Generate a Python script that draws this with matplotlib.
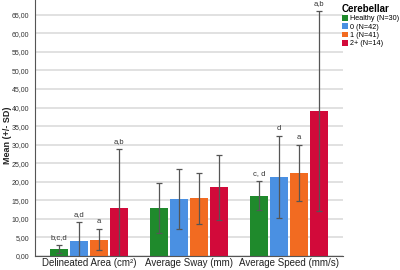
import numpy as np
import matplotlib.pyplot as plt
from matplotlib.patches import Patch

plt.rcParams['font.family'] = ['Liberation Sans', 'DejaVu Sans']

# ----------------------------
# Data
# ----------------------------
measures = ["Delineated Area (cm²)", "Average Sway (mm)", "Average Speed (mm/s)"]
groups = ["Healthy (N=30)", "0 (N=42)", "1 (N=41)", "2+ (N=14)"]
colors = ["#1f8a2c", "#4a90e2", "#f26b21", "#d20a3a"]

healthy_mean = [1.8, 12.9, 16.2]
healthy_sd = [1.1, 6.8, 3.9]
c0_mean = [4.0, 15.4, 21.3]
c0_sd = [5.2, 8.1, 11.1]
c1_mean = [4.4, 15.5, 22.4]
c1_sd = [2.9, 6.8, 7.5]
c2_mean = [13.0, 18.5, 39.0]
c2_sd = [15.9, 8.8, 26.9]

# significance letters per bar
healthy_lbl = ["b,c,d", "", "c, d"]
c0_lbl = ["a,d", "", "d"]
c1_lbl = ["a", "", "a"]
c2_lbl = ["a,b", "", "a,b"]

means = [healthy_mean, c0_mean, c1_mean, c2_mean]
sds = [healthy_sd, c0_sd, c1_sd, c2_sd]
lbls = [healthy_lbl, c0_lbl, c1_lbl, c2_lbl]

# ----------------------------
# Plot
# ----------------------------
fig = plt.figure(figsize=(4.0, 2.7), dpi=100)
ax = fig.add_axes([0.0875, 0.052, 0.77, 0.948])

x = np.arange(len(measures))
width = 0.18
offsets = [-0.3, -0.1, 0.1, 0.3]

for i in range(len(groups)):
    xs = x + offsets[i]
    ax.bar(xs, means[i], width, color=colors[i], zorder=2)
    ax.errorbar(xs, means[i], yerr=sds[i], fmt="none", ecolor="#555555",
                elinewidth=0.9, capsize=2.5, capthick=0.9, zorder=3)
    for xx, m, s, t in zip(xs, means[i], sds[i], lbls[i]):
        if t:
            ax.annotate(t, (xx, m + s), xytext=(0, 3), textcoords="offset points",
                        ha="center", va="bottom", fontsize=5.5, color="#333333")

ax.set_xlim(-0.54, 2.54)
ax.set_ylim(0, 69)
ax.set_yticks(np.arange(0, 66, 5))
ax.set_yticklabels([f"{v:.2f}".replace(".", ",") for v in np.arange(0, 66, 5)])
ax.set_xticks(x)
ax.set_xticklabels(measures)
ax.tick_params(axis="y", labelsize=5.0, length=0, pad=4, labelcolor="#333333")
ax.tick_params(axis="x", labelsize=7, length=0, pad=1.5, labelcolor="#222222")
ax.yaxis.grid(True, color="#dcdcdc", linewidth=1.2, zorder=0)
ax.set_axisbelow(True)
for side in ["top", "right"]:
    ax.spines[side].set_visible(False)
for side in ["left", "bottom"]:
    ax.spines[side].set_color("#555555")
    ax.spines[side].set_linewidth(0.8)

fig.text(0.018, 0.5, "Mean (+/- SD)", rotation=90, ha="center", va="center",
         fontsize=6.5, fontweight="bold", color="#222222")

handles = [Patch(facecolor=c, edgecolor="none") for c in colors]
leg = fig.legend(handles, groups, title="Cerebellar", loc="upper left",
                 bbox_to_anchor=(0.855, 0.985), frameon=False, fontsize=5.2,
                 title_fontsize=7, handlelength=0.8, handleheight=0.8,
                 handletextpad=0.25, labelspacing=0.15, borderaxespad=0,
                 borderpad=0, alignment="left")
leg.get_title().set_fontweight("bold")

fig.savefig("out.png", dpi=100)
